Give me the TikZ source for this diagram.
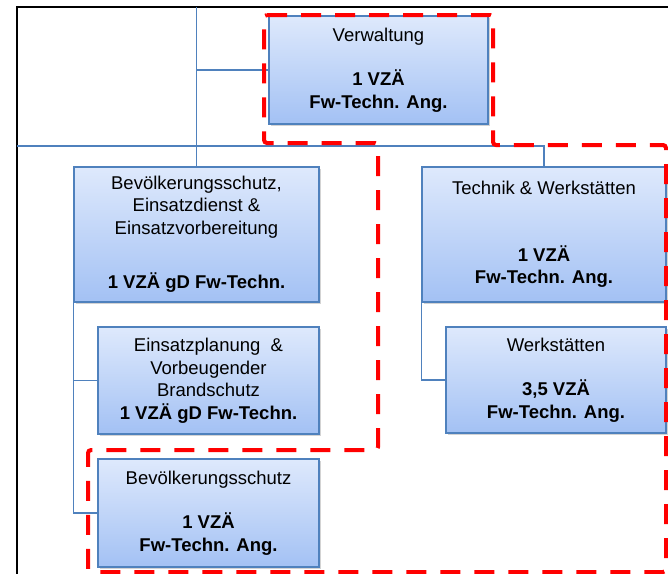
\documentclass[tikz,border=0pt]{standalone}
\usepackage{fontspec}
\setmainfont{Liberation Sans}
\usepackage{tikz}
\usetikzlibrary{shadows}

\definecolor{boxtop}{RGB}{222,233,252}
\definecolor{boxbottom}{RGB}{163,193,244}
\definecolor{boxedge}{RGB}{79,129,189}

\begin{document}
\begin{tikzpicture}[x=1pt,y=-1pt,
  orgbox/.style={draw=boxedge, line width=1.3pt, top color=boxtop, bottom color=boxbottom,
    inner sep=0pt, align=center, font=\fontsize{18.5}{22.5}\selectfont,
    drop shadow={shadow xshift=2pt, shadow yshift=-2pt, opacity=0.35}},
  conn/.style={draw=boxedge, line width=1.2pt},
  markline/.style={draw=red, line width=4pt, dash pattern=on 20pt off 14pt, rounded corners=3pt}]

% Page size
\useasboundingbox (0,0) rectangle (668,573);

% Frame of the chart
\draw[line width=2pt] (17,580) -- (17,7) -- (675,7);

% Top of the line to the left column
\coordinate (topjoin) at (196.5,7);
\coordinate (hleft) at (17,146);

% Boxes
\node[orgbox, minimum width=219, minimum height=108] (verw) at (378.5,70)
  {Verwaltung\\[22pt]\textbf{1 VZÄ}\\\textbf{Fw-Techn. Ang.}};

\node[orgbox, minimum width=245, minimum height=135] (bevein) at (196.5,234.5)
  {Bevölkerungsschutz,\\Einsatzdienst \&\\Einsatzvorbereitung\\[32pt]\textbf{1 VZÄ gD Fw-Techn.}};

\node[orgbox, minimum width=221, minimum height=107] (einsplan) at (208.5,380.5)
  {Einsatzplanung \ \&\\Vorbeugender\\Brandschutz\\\textbf{1 VZÄ gD Fw-Techn.}};

\node[orgbox, minimum width=221, minimum height=108] (bevschutz) at (208.5,513)
  {Bevölkerungsschutz\\[22pt]\textbf{1 VZÄ}\\\textbf{Fw-Techn. Ang.}};

\node[orgbox, minimum width=244, minimum height=135] (technik) at (544,234.5)
  {Technik \& Werkstätten\\[44pt]\textbf{1 VZÄ}\\\textbf{Fw-Techn. Ang.}};

\node[orgbox, minimum width=220, minimum height=106] (werk) at (556,380)
  {Werkstätten\\[22pt]\textbf{3,5 VZÄ}\\\textbf{Fw-Techn. Ang.}};

% Connectors
\draw[conn] (topjoin) -- (bevein.north);
\draw[conn] (topjoin |- verw.west) -- (verw.west);
\draw[conn] (hleft) -| (technik.north);
\draw[conn] (bevein.south west) |- (einsplan.west);
\draw[conn] (bevein.south west) |- (bevschutz.west);
\draw[conn] (technik.south west) |- (werk.west);

% Red marking
\draw[markline] (264,15) -- (493,15) -- (493,145) -- (666,145) -- (666,572)
  -- (88,572) -- (88,450) -- (378,450) -- (378,143) -- (264,143) -- cycle;

\end{tikzpicture}
\end{document}
